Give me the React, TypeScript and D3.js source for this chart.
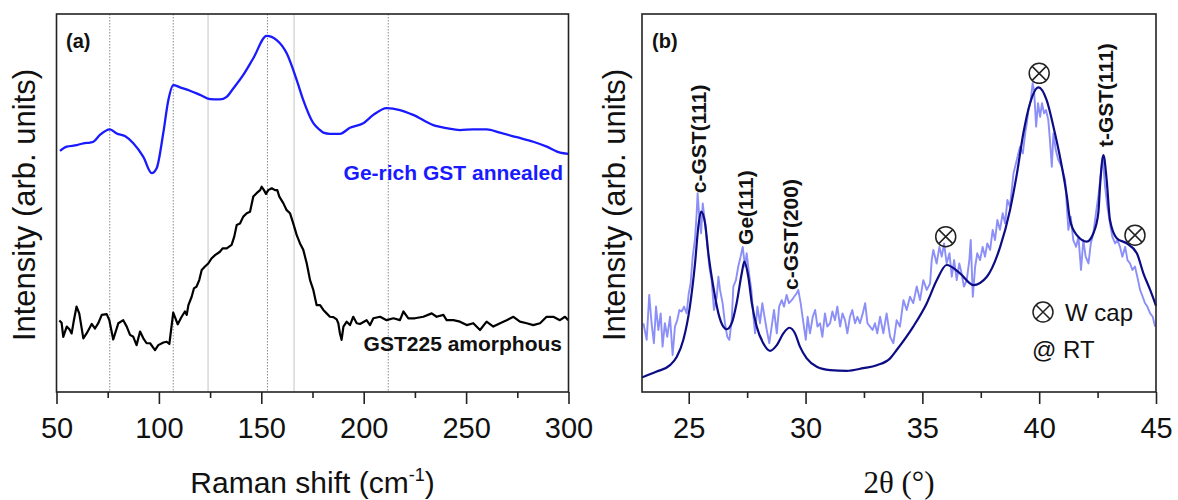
import { useEffect, useRef } from 'react';
import * as d3 from 'd3';

type Pt = [number, number];

// ---- panel (a): Raman ----
const ramanTicks = [50, 100, 150, 200, 250, 300];
const ramanMinorTicks = [75, 125, 175, 225, 275];
const ramanDotted = [76, 107, 153, 212];
const ramanSolid = [124, 166];

const annealed: Pt[] = [
  [51.7, 63.8], [55.0, 64.9], [59.9, 65.3], [63.1, 65.8], [66.4, 66.0], [68.0, 66.2], [71.2, 68.0],
  [76.1, 69.5], [79.4, 68.4], [83.4, 67.7], [87.5, 65.8], [92.4, 62.2], [96.5, 57.9], [98.9, 59.2],
  [102.1, 68.4], [104.6, 77.2], [107.0, 81.2], [110.3, 80.6], [115.2, 79.7], [120.1, 78.6], [124.9, 77.5],
  [129.8, 77.4], [133.1, 78.1], [136.3, 80.3], [141.2, 83.9], [146.1, 88.3], [152.6, 94.2], [157.5, 93.1],
  [162.4, 89.6], [167.3, 82.5], [170.5, 77.2], [175.4, 71.1], [178.7, 69.3], [180.3, 68.6], [183.5, 68.3],
  [188.4, 68.3], [193.3, 69.9], [199.8, 71.1], [204.7, 73.3], [211.2, 75.1], [217.7, 74.6], [224.2, 73.3],
  [234.0, 70.6], [240.5, 69.8], [247.0, 69.3], [253.5, 69.5], [260.1, 69.5], [266.5, 68.6], [274.7, 67.4],
  [282.8, 66.2], [289.4, 64.9], [295.9, 63.3], [299.9, 63.0],
];

const amorphous: Pt[] = [
  [51.4, 18.9], [52.5, 18.3], [53.3, 14.6], [55.0, 17.3], [56.3, 16.6], [57.4, 15.5], [58.5, 19.0],
  [59.8, 22.6], [61.1, 20.8], [63.1, 14.2], [64.7, 15.5], [67.2, 18.0], [68.8, 16.8], [70.4, 18.2],
  [72.1, 20.4], [74.5, 20.6], [75.8, 19.0], [77.7, 13.9], [80.2, 18.2], [82.6, 19.0], [84.3, 17.3],
  [85.9, 15.1], [87.5, 14.6], [89.1, 12.4], [90.8, 16.0], [92.4, 14.2], [94.0, 12.9], [95.7, 12.9],
  [98.1, 11.1], [99.7, 12.4], [102.2, 13.1], [103.8, 13.3], [105.1, 12.7], [107.0, 21.0], [109.2, 17.9],
  [111.1, 19.9], [112.7, 21.3], [113.6, 20.4], [114.4, 23.0], [116.0, 25.2], [117.1, 27.4], [118.4, 27.9],
  [119.7, 29.6], [120.9, 32.3], [122.5, 33.2], [124.1, 34.0], [125.8, 35.4], [127.4, 36.2], [129.8, 37.1],
  [131.1, 38.0], [133.1, 38.0], [135.5, 38.9], [136.8, 41.1], [138.0, 44.2], [139.6, 44.6], [141.2, 46.4],
  [142.9, 47.3], [144.5, 47.7], [146.1, 51.7], [147.7, 52.6], [149.4, 53.4], [150.2, 54.3], [151.3, 53.4],
  [152.3, 52.4], [153.4, 53.4], [155.1, 53.9], [156.7, 53.4], [157.8, 53.4], [158.8, 51.7], [160.8, 49.9],
  [162.4, 48.1], [164.0, 47.3], [165.6, 44.6], [167.3, 41.5], [168.9, 39.3], [170.5, 37.6], [172.2, 34.0],
  [173.8, 29.6], [175.4, 27.0], [177.0, 23.0], [178.7, 23.0], [180.3, 21.7], [181.9, 20.8], [183.5, 19.9],
  [185.2, 19.8], [186.8, 19.2], [187.6, 18.2], [188.4, 15.5], [189.2, 13.8], [190.1, 17.3], [191.7, 18.6],
  [193.3, 17.7], [194.9, 19.9], [196.6, 18.2], [198.2, 18.0], [201.4, 19.0], [203.1, 17.7], [204.7, 19.5],
  [208.0, 19.9], [211.2, 19.0], [214.5, 19.5], [217.7, 19.0], [219.4, 21.3], [221.8, 19.5], [225.0, 19.5],
  [229.1, 19.9], [233.2, 20.8], [235.6, 19.9], [238.9, 20.4], [240.5, 19.0], [243.8, 19.0], [247.0, 18.6],
  [250.3, 17.7], [253.5, 18.2], [256.8, 16.4], [260.0, 18.6], [263.3, 17.3], [266.6, 18.2], [269.8, 19.0],
  [273.1, 19.9], [276.3, 18.6], [279.6, 18.2], [282.8, 17.7], [286.1, 18.2], [289.3, 19.9], [292.6, 19.9],
  [295.8, 19.0], [298.3, 19.9], [299.9, 19.0],
];

// ---- panel (b): XRD ----
const xrdTicks = [25, 30, 35, 40, 45];
const xrdMinorTicks = [27.5, 32.5, 37.5, 42.5];

const xrdData: Pt[] = [
  [23.06, 18.2], [23.2, 13.8], [23.31, 25.7], [23.41, 18.2], [23.51, 12.9], [23.6, 22.6], [23.7, 16.4],
  [23.8, 20.8], [23.88, 12.0], [23.98, 18.2], [24.08, 14.6], [24.2, 19.9], [24.31, 9.8], [24.41, 17.3],
  [24.51, 19.0], [24.6, 21.7], [24.7, 21.3], [24.8, 22.6], [24.91, 20.8], [25.0, 26.1], [25.08, 28.7],
  [25.17, 35.8], [25.27, 40.6], [25.34, 47.3], [25.38, 52.6], [25.45, 46.4], [25.53, 42.0], [25.6, 49.9],
  [25.7, 44.6], [25.8, 38.4], [25.88, 33.2], [25.98, 29.6], [26.08, 21.7], [26.2, 25.2], [26.27, 30.5],
  [26.34, 27.0], [26.45, 23.5], [26.55, 18.2], [26.65, 14.6], [26.74, 13.8], [26.84, 19.0], [26.91, 27.9],
  [27.02, 29.6], [27.12, 33.2], [27.22, 35.8], [27.31, 38.4], [27.41, 33.2], [27.48, 36.7], [27.58, 31.4],
  [27.68, 27.0], [27.77, 19.9], [27.84, 15.5], [27.94, 22.6], [28.05, 18.2], [28.15, 23.5], [28.22, 20.8],
  [28.34, 16.4], [28.45, 12.9], [28.55, 17.3], [28.65, 21.7], [28.77, 15.5], [28.87, 22.6], [28.98, 24.3],
  [29.08, 22.6], [29.19, 25.7], [29.29, 23.5], [29.41, 24.3], [29.51, 25.2], [29.62, 26.1], [29.69, 27.0],
  [29.79, 23.5], [29.91, 18.2], [30.01, 13.8], [30.09, 19.9], [30.19, 15.5], [30.31, 19.9], [30.41, 21.7],
  [30.51, 17.3], [30.62, 18.2], [30.72, 14.6], [30.83, 20.8], [30.93, 17.3], [31.05, 18.2], [31.15, 21.3],
  [31.26, 19.0], [31.36, 22.6], [31.48, 17.3], [31.58, 20.8], [31.69, 19.0], [31.79, 15.5], [31.9, 19.9],
  [32.0, 21.7], [32.12, 18.2], [32.22, 19.9], [32.33, 18.2], [32.45, 20.8], [32.55, 23.5], [32.65, 18.2],
  [32.76, 17.3], [32.87, 16.4], [32.97, 18.2], [33.07, 15.5], [33.19, 19.9], [33.33, 15.5], [33.47, 20.8],
  [33.62, 14.6], [33.76, 12.9], [33.9, 19.0], [34.04, 17.3], [34.19, 24.3], [34.33, 21.7], [34.47, 25.2],
  [34.61, 23.5], [34.76, 27.9], [34.9, 24.3], [35.04, 29.6], [35.19, 27.0], [35.33, 28.7], [35.4, 34.9],
  [35.47, 37.6], [35.61, 34.0], [35.73, 38.4], [35.83, 35.8], [35.93, 39.3], [36.04, 34.0], [36.16, 36.7],
  [36.26, 30.5], [36.36, 34.9], [36.47, 29.6], [36.58, 34.0], [36.68, 31.4], [36.78, 27.9], [36.9, 29.6],
  [37.01, 34.9], [37.07, 40.2], [37.16, 25.2], [37.26, 33.2], [37.35, 36.7], [37.47, 34.9], [37.58, 38.4],
  [37.68, 35.8], [37.78, 39.3], [37.9, 37.6], [38.01, 42.9], [38.11, 40.2], [38.21, 45.5], [38.32, 42.9],
  [38.44, 47.3], [38.54, 44.6], [38.64, 50.8], [38.75, 49.0], [38.9, 57.8], [39.04, 61.4], [39.18, 64.9],
  [39.3, 63.1], [39.4, 68.4], [39.47, 71.1], [39.54, 74.6], [39.64, 77.2], [39.72, 81.7], [39.78, 79.9],
  [39.87, 70.2], [39.95, 76.4], [40.04, 72.8], [40.12, 76.4], [40.21, 73.7], [40.29, 74.6], [40.39, 72.0],
  [40.46, 66.7], [40.54, 59.6], [40.61, 68.4], [40.71, 64.0], [40.82, 61.4], [40.96, 59.6], [41.11, 56.1],
  [41.25, 42.9], [41.35, 46.4], [41.46, 40.2], [41.58, 38.4], [41.68, 41.1], [41.79, 32.3], [41.89, 40.2],
  [41.99, 35.8], [42.11, 34.0], [42.21, 39.3], [42.32, 42.0], [42.43, 47.3], [42.55, 52.6], [42.72, 62.3],
  [42.82, 54.3], [42.92, 49.0], [43.03, 44.6], [43.13, 41.1], [43.25, 39.3], [43.35, 40.2], [43.46, 38.4],
  [43.56, 35.8], [43.68, 38.4], [43.78, 34.9], [43.89, 34.0], [43.99, 32.3], [44.1, 33.2], [44.2, 30.5],
  [44.32, 27.0], [44.43, 25.2], [44.53, 23.5], [44.63, 22.6], [44.75, 20.8], [44.86, 19.9], [44.96, 17.3],
];

const xrdFit: Pt[] = [
  [23.0, 3.8], [23.06, 4.0], [23.63, 5.4], [24.2, 7.1], [24.49, 9.3], [24.77, 13.8], [25.05, 22.6],
  [25.27, 34.0], [25.41, 43.7], [25.53, 47.7], [25.7, 44.6], [25.84, 36.7], [26.05, 27.9], [26.27, 20.8],
  [26.48, 17.3], [26.63, 16.6], [26.84, 18.2], [27.05, 23.5], [27.27, 31.4], [27.38, 34.5], [27.55, 30.5],
  [27.7, 23.5], [27.91, 17.3], [28.19, 12.9], [28.48, 10.9], [28.77, 12.4], [29.05, 15.5], [29.31, 17.0],
  [29.55, 15.5], [29.76, 12.0], [30.05, 8.9], [30.48, 6.7], [31.05, 5.8], [31.76, 5.6], [32.47, 6.3],
  [33.05, 7.1], [33.62, 8.9], [33.9, 11.1], [34.61, 17.3], [35.19, 23.5], [35.62, 29.6], [36.04, 33.6],
  [36.61, 31.4], [37.18, 28.3], [37.76, 30.5], [38.33, 38.4], [38.75, 48.1], [39.04, 57.5], [39.32, 68.4],
  [39.61, 76.4], [39.97, 80.6], [40.32, 77.2], [40.61, 70.2], [40.89, 62.2], [41.18, 52.0], [41.32, 45.5],
  [41.61, 41.5], [42.04, 39.8], [42.32, 42.0], [42.53, 47.3], [42.61, 55.0], [42.75, 62.7], [42.89, 56.0],
  [43.03, 45.5], [43.32, 40.7], [43.75, 39.3], [44.18, 36.7], [44.46, 31.4], [44.75, 27.0], [44.96, 23.5],
  [45.0, 22.8],
];

const peakNames = ['c-GST(111)', 'Ge(111)', 'c-GST(200)', 't-GST(111)'];
const peakAngles = [25.44, 27.43, 29.36, 42.86];
const peakLabelBase = [52.6, 38.9, 27.0, 64.8];
const wCapPeaks: Pt[] = [[36.0, 41.1], [40.0, 84.3], [44.1, 41.5]];

const W = 1178;
const H = 500;
const TOP = 14;
const BOTTOM = 392;
const SANS = '"Liberation Sans", Arial, sans-serif';

function App() {
  const svgRef = useRef<SVGSVGElement>(null);

  useEffect(() => {
    const svg = d3.select(svgRef.current);
    svg.selectAll('*').remove();

    const y = d3.scaleLinear().domain([0, 100]).range([BOTTOM, TOP]);
    const xa = d3.scaleLinear().domain([50, 300]).range([56.5, 568.5]);
    const xb = d3.scaleLinear().domain([23, 45]).range([642, 1156]);

    const axis = (x: any, major: number[], minor: number[]) => {
      const g = svg.append('g').attr('transform', `translate(0,${BOTTOM})`);
      g.call(d3.axisBottom(x).tickValues(major).tickSize(12).tickPadding(13).tickSizeOuter(0) as any);
      g.select('.domain').remove();
      g.attr('font-family', SANS).attr('font-size', 29);
      g.selectAll('line').attr('stroke', '#222').attr('stroke-width', 1.6);
      g.selectAll('text').attr('fill', '#111');
      const m = svg.append('g').attr('transform', `translate(0,${BOTTOM})`);
      m.call(d3.axisBottom(x).tickValues(minor).tickSize(6).tickFormat(() => '').tickSizeOuter(0) as any);
      m.select('.domain').remove();
      m.selectAll('line').attr('stroke', '#222').attr('stroke-width', 1.6);
      const [r0, r1] = x.range();
      svg.append('rect')
        .attr('x', r0).attr('y', TOP)
        .attr('width', r1 - r0).attr('height', BOTTOM - TOP)
        .attr('fill', 'none').attr('stroke', '#222').attr('stroke-width', 1.6);
    };

    const yLabel = (xPos: number) => {
      svg.append('text')
        .attr('transform', `translate(${xPos},${(TOP + BOTTOM) / 2 + 2}) rotate(-90)`)
        .attr('text-anchor', 'middle')
        .attr('font-family', SANS).attr('font-size', 31).attr('fill', '#111')
        .text('Intensity (arb. units)');
    };

    // ----- panel (a) -----
    svg.selectAll('.vdot').data(ramanDotted).enter().append('line')
      .attr('x1', d => xa(d)).attr('x2', d => xa(d))
      .attr('y1', TOP).attr('y2', BOTTOM)
      .attr('stroke', '#8a8a8a').attr('stroke-width', 1).attr('stroke-dasharray', '1.5 1.5');
    svg.selectAll('.vsolid').data(ramanSolid).enter().append('line')
      .attr('x1', d => xa(d)).attr('x2', d => xa(d))
      .attr('y1', TOP).attr('y2', BOTTOM)
      .attr('stroke', '#c4c4c4').attr('stroke-width', 1);

    svg.append('path')
      .attr('d', d3.line<Pt>().x(d => xa(d[0])).y(d => y(d[1])).curve(d3.curveMonotoneX)(annealed) as string)
      .attr('fill', 'none').attr('stroke', '#1a1aff').attr('stroke-width', 2.3);
    svg.append('path')
      .attr('d', d3.line<Pt>().x(d => xa(d[0])).y(d => y(d[1]))(amorphous) as string)
      .attr('fill', 'none').attr('stroke', '#000').attr('stroke-width', 2.2)
      .attr('stroke-linejoin', 'round');

    axis(xa, ramanTicks, ramanMinorTicks);
    yLabel(35);

    svg.append('text').attr('x', 66).attr('y', 48)
      .attr('font-family', SANS).attr('font-size', 20).attr('font-weight', 'bold').attr('fill', '#111')
      .text('(a)');
    svg.append('text').attr('x', 563).attr('y', 180).attr('text-anchor', 'end')
      .attr('font-family', SANS).attr('font-size', 21).attr('font-weight', 'bold').attr('fill', '#1a1aff')
      .text('Ge-rich GST annealed');
    svg.append('text').attr('x', 562).attr('y', 351).attr('text-anchor', 'end')
      .attr('font-family', SANS).attr('font-size', 21).attr('font-weight', 'bold').attr('fill', '#111')
      .text('GST225 amorphous');

    const ta = svg.append('text').attr('x', (56.5 + 568.5) / 2).attr('y', 493).attr('text-anchor', 'middle')
      .attr('font-family', SANS).attr('font-size', 30).attr('fill', '#111');
    ta.append('tspan').text('Raman shift (cm');
    ta.append('tspan').attr('font-size', 18).attr('dy', -12).text('-1');
    ta.append('tspan').attr('dy', 12).text(')');

    // ----- panel (b) -----
    svg.append('path')
      .attr('d', d3.line<Pt>().x(d => xb(d[0])).y(d => y(d[1]))(xrdData) as string)
      .attr('fill', 'none').attr('stroke', '#8b8ff7').attr('stroke-width', 1.9)
      .attr('stroke-linejoin', 'round');
    svg.append('path')
      .attr('d', d3.line<Pt>().x(d => xb(d[0])).y(d => y(d[1])).curve(d3.curveMonotoneX)(xrdFit) as string)
      .attr('fill', 'none').attr('stroke', '#0c0c86').attr('stroke-width', 2.2);

    axis(xb, xrdTicks, xrdMinorTicks);
    yLabel(625);

    svg.append('text').attr('x', 652).attr('y', 48)
      .attr('font-family', SANS).attr('font-size', 20).attr('font-weight', 'bold').attr('fill', '#111')
      .text('(b)');

    svg.selectAll('.peak').data(peakNames).enter().append('text')
      .attr('transform', (d, i) => `translate(${xb(peakAngles[i]) + 7},${y(peakLabelBase[i])}) rotate(-90)`)
      .attr('font-family', SANS).attr('font-size', 21).attr('font-weight', 'bold').attr('fill', '#111')
      .text(d => d);

    const wMark = (cx: number, cy: number) => {
      const g = svg.append('g').attr('transform', `translate(${cx},${cy})`);
      const r = 10;
      const k = r * 0.7;
      g.append('circle').attr('r', r).attr('fill', 'none').attr('stroke', '#222').attr('stroke-width', 1.5);
      g.append('path').attr('d', `M${-k},${-k}L${k},${k}M${-k},${k}L${k},${-k}`)
        .attr('stroke', '#222').attr('stroke-width', 1.5);
    };
    wCapPeaks.forEach(p => wMark(xb(p[0]), y(p[1])));

    // legend
    wMark(1043, 312);
    svg.append('text').attr('x', 1065).attr('y', 321)
      .attr('font-family', SANS).attr('font-size', 24).attr('fill', '#111').text('W cap');
    svg.append('text').attr('x', 1032).attr('y', 358)
      .attr('font-family', SANS).attr('font-size', 24).attr('fill', '#111').text('@ RT');

    svg.append('text').attr('x', (642 + 1156) / 2).attr('y', 493).attr('text-anchor', 'middle')
      .attr('font-family', '"Liberation Serif", "Times New Roman", serif').attr('font-size', 31).attr('fill', '#111')
      .text('2θ (°)');
  }, []);

  return (
    <svg ref={svgRef} width={W} height={H}
      style={{ position: 'absolute', left: 0, top: 0, background: '#fff' }} />
  );
}

export default App;
